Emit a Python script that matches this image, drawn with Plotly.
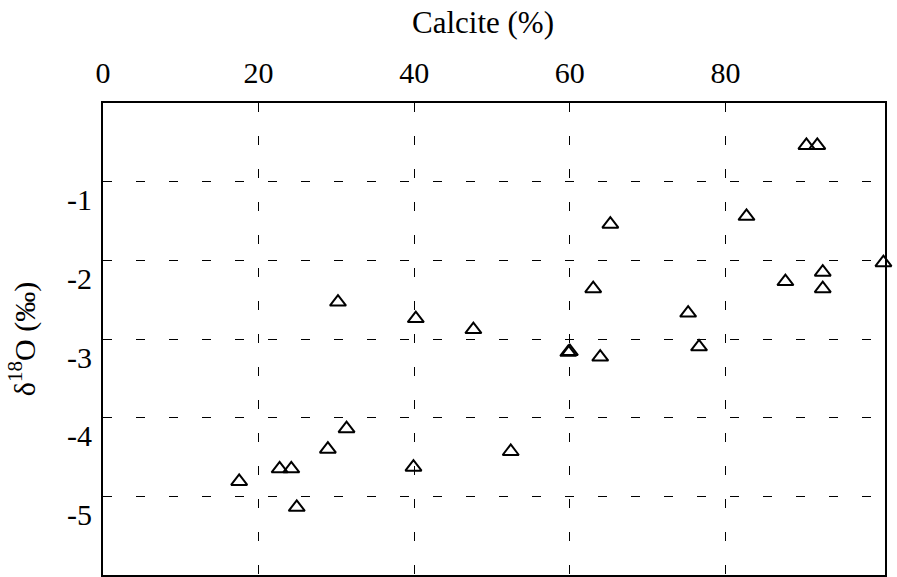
import plotly.graph_objects as go

calcite = [17.5, 22.7, 24.2, 24.9, 28.9, 31.3, 30.2, 39.9, 40.2, 47.6, 52.4,
           59.8, 60.0, 63.9, 63.0, 65.2, 75.2, 76.6, 82.7, 87.7,
           90.4, 91.8, 92.5, 92.5, 100.3]
d18o = [-4.81, -4.65, -4.65, -5.14, -4.40, -4.14, -2.53, -4.63, -2.74, -2.88, -4.43,
        -3.17, -3.16, -3.23, -2.36, -1.54, -2.67, -3.10, -1.44, -2.27,
        -0.54, -0.54, -2.15, -2.36, -2.03]

x_ticks = [0, 20, 40, 60, 80]
y_ticks = [-1, -2, -3, -4, -5]
y_tick_text = ["-1", "-2", "-3", "-4", "-5"]
label_shift = 0.23  # labels sit a little below their gridlines in the reference

font_family = "Liberation Serif"

fig = go.Figure()
fig.add_trace(go.Scatter(
    x=calcite, y=d18o, mode="markers", cliponaxis=False,
    marker=dict(symbol="triangle-up-open", size=14, color="black",
                line=dict(color="black", width=2)),
    showlegend=False,
))
# invisible trace to activate the overlay axis used for the tick labels
fig.add_trace(go.Scatter(x=[None], y=[None], yaxis="y2", showlegend=False))

grid = dict(showgrid=True, gridcolor="black", gridwidth=1, griddash="9px,24px")

fig.update_layout(
    width=897, height=577,
    margin=dict(l=103, r=12, t=103, b=2),
    paper_bgcolor="white", plot_bgcolor="white",
    font=dict(family=font_family, size=30, color="black"),
    xaxis=dict(
        side="top", range=[0, 100.5], tickvals=x_ticks,
        ticks="inside", ticklen=9, tickcolor="black",
        showline=True, linecolor="black", linewidth=1.5, mirror=True,
        zeroline=False, ticklabelstandoff=6, automargin=False,
        **grid,
    ),
    yaxis=dict(
        range=[-6, 0], tickvals=y_ticks, showticklabels=False,
        showline=True, linecolor="black", linewidth=1.5, mirror=True,
        zeroline=False, automargin=False, **grid,
    ),
    yaxis2=dict(
        overlaying="y", side="left", range=[-6, 0],
        tickvals=[v - label_shift for v in y_ticks], ticktext=y_tick_text,
        showgrid=False, zeroline=False, showline=False,
        ticklabelstandoff=10, automargin=False,
        title=dict(text="δ<sup>18</sup>O (‰)", font=dict(size=30), standoff=22),
    ),
    annotations=[dict(
        text="Calcite (%)", xref="paper", yref="paper", x=0.486, y=1,
        yshift=81, xanchor="center", yanchor="middle", showarrow=False,
        font=dict(size=31),
    )],
)

fig.write_html("out.html", config={"displayModeBar": False},
               post_script="document.body.style.margin='0px';")
